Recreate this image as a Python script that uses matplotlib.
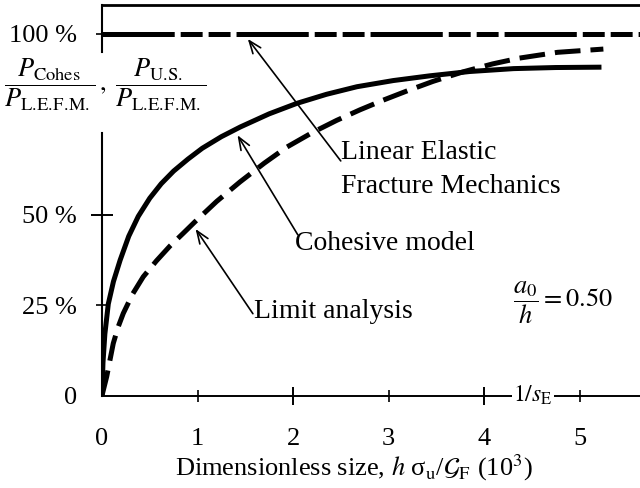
import matplotlib
matplotlib.use("Agg")
import matplotlib.pyplot as plt
from matplotlib.ticker import FixedLocator, FixedFormatter

plt.rcParams["font.family"] = ["Liberation Serif", "DejaVu Serif"]
plt.rcParams["mathtext.fontset"] = "stix"
plt.rcParams["lines.scale_dashes"] = False

# Dimensionless size h*sigma_u/G_F (x10^3) and load ratios (%)
cohes_x = [0.0, 0.01, 0.03, 0.066, 0.12, 0.19, 0.28, 0.38, 0.5, 0.62, 0.75, 0.9, 1.05,
           1.25, 1.45, 1.75, 2.04, 2.35, 2.67, 3.05, 3.43, 3.85, 4.31, 4.75, 5.23]
cohes_y = [0.0, 9.0, 17.0, 25.3, 31.5, 37.4, 44.0, 49.5, 54.5, 58.5, 62.0, 65.3, 68.3,
           71.5, 74.2, 77.8, 80.7, 83.2, 85.3, 87.0, 88.3, 89.5, 90.3, 90.6, 90.7]

limit_x = [0.0, 0.049, 0.118, 0.17, 0.223, 0.32, 0.432, 0.57, 0.712, 0.85, 0.974, 1.2,
           1.445, 1.7, 1.934, 2.2, 2.457, 2.7, 2.946, 3.2, 3.469, 3.78, 4.09, 4.37, 4.77, 5.25]
limit_y = [0.0, 5.2, 14.4, 19.0, 22.7, 28.0, 32.8, 37.2, 41.3, 44.8, 48.0, 53.6,
           59.0, 64.2, 68.6, 72.6, 76.0, 78.9, 81.6, 84.2, 86.8, 89.4, 91.6, 93.2, 94.8, 95.7]

lefm_x = [0.0, 5.7]
lefm_y = [100.0, 100.0]

x_major = [2, 4]
x_minor = [0, 1, 3, 5]
y_major = [50]
y_major_labels = ["50 %"]
y_minor = [0, 25, 100]
y_minor_labels = ["0", "25 %", "100 %"]

fig = plt.figure(figsize=(6.4, 4.88), dpi=100)
ax = fig.add_axes([102 / 640, (488 - 395.5) / 488, 1 - 102 / 640, (395.5 - 5) / 488])
ax.set_xlim(0, (640 - 102) / 95.5)
ax.set_ylim(0, (395.5 - 5) / 3.62)

lw = 3.6
ax.plot(lefm_x, lefm_y, color="black", lw=lw, solid_capstyle="butt",
        dash_capstyle="butt", dashes=(52, 4.3, 15.8, 4.3, 15.8, 4.3), clip_on=False, zorder=3)
ax.plot(cohes_x, cohes_y, color="black", lw=lw, solid_capstyle="butt",
        solid_joinstyle="round", zorder=3)
ax.plot(limit_x, limit_y, color="black", lw=lw, dash_capstyle="butt",
        dash_joinstyle="round", dashes=(18.5, 7.2), zorder=3)

# Frame: top and bottom lines, left axis broken behind the ratio label
for s in ["left", "right"]:
    ax.spines[s].set_visible(False)
ax.spines["top"].set_linewidth(2.0)
ax.spines["bottom"].set_linewidth(1.4)
ytr = ax.get_yaxis_transform()
ax.plot([0, 0], [72.5, 0], transform=ytr, color="black", lw=1.5, clip_on=False, zorder=2)
ax.plot([0, 0], [ax.get_ylim()[1], 94.9], transform=ytr, color="black", lw=1.5, clip_on=False, zorder=2)

ax.xaxis.set_major_locator(FixedLocator(x_major))
ax.xaxis.set_minor_locator(FixedLocator(x_minor))
ax.xaxis.set_major_formatter(FixedFormatter([str(v) for v in x_major]))
ax.xaxis.set_minor_formatter(FixedFormatter([str(v) for v in x_minor]))
ax.yaxis.set_major_locator(FixedLocator(y_major))
ax.yaxis.set_minor_locator(FixedLocator(y_minor))
ax.yaxis.set_major_formatter(FixedFormatter(y_major_labels))
ax.yaxis.set_minor_formatter(FixedFormatter(y_minor_labels))

ax.tick_params(axis="x", which="major", direction="inout", length=13, width=1.4, pad=17, labelsize=19)
ax.tick_params(axis="x", which="minor", direction="inout", length=8.6, width=1.2, pad=19.2, labelsize=19)
ax.tick_params(axis="y", which="major", direction="inout", length=16, width=1.4, pad=10, labelsize=19)
ax.tick_params(axis="y", which="minor", direction="inout", length=8.6, width=1.2, pad=13.7, labelsize=19)
ax.xaxis.get_minor_ticks()[0].tick1line.set_visible(False)
ax.yaxis.get_minor_ticks()[0].tick1line.set_visible(False)

# Axis titles
fig.text(354 / 640, 1 - 468 / 488,
         r"Dimensionless size, $h$ σ$_{\mathrm{u}}$/$\mathcal{G}_{\mathrm{F}}$ (10$^{3}$)",
         ha="center", va="center", fontsize=19)
lefm_sub = r"\mathrm{L.\!E.\!F.\!M.}"
ax.text(0.006, 85.8,
        r"$\dfrac{P_{\mathrm{Cohes}}}{P_{" + lefm_sub + r"}}\,,\;"
        r"\dfrac{P_{\mathrm{U.\!S.}}}{P_{" + lefm_sub + r"}}$",
        transform=ytr, ha="center", va="center", fontsize=19)

# Curve labels with arrows
arrow = dict(arrowstyle="->,head_length=0.9,head_width=0.35", lw=1.2, color="black",
             shrinkA=0, shrinkB=0)
ax.annotate("", xy=(1.527, 98.5), xytext=(2.50, 64.8), arrowprops=arrow)
ax.annotate("", xy=(1.419, 71.9), xytext=(2.05, 44.4), arrowprops=arrow)
ax.annotate("", xy=(0.98, 46.0), xytext=(1.58, 22.6), arrowprops=arrow)

ax.text(2.50, 67.2, "Linear Elastic", ha="left", va="center", fontsize=20)
ax.text(2.50, 57.7, "Fracture Mechanics", ha="left", va="center", fontsize=20)
ax.text(2.02, 42.1, "Cohesive model", ha="left", va="center", fontsize=20)
ax.text(1.594, 23.2, "Limit analysis", ha="left", va="center", fontsize=20)

ax.text(4.30, 25.7, r"$\dfrac{a_0}{h} = 0.50$", ha="left", va="center", fontsize=19)
ax.text(4.51, 0.0, r"$1/s_{\mathrm{E}}$", ha="center", va="center", fontsize=17,
        bbox=dict(facecolor="white", edgecolor="none", pad=1.0), zorder=5, clip_on=False)

fig.savefig("out.png", dpi=100)
